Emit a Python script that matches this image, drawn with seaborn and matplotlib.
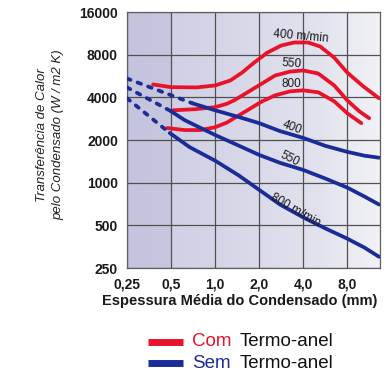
import numpy as np
import pandas as pd
import matplotlib
matplotlib.use("Agg")
import matplotlib.pyplot as plt
import seaborn as sns
from matplotlib.colors import LinearSegmentedColormap
from matplotlib.lines import Line2D
from matplotlib.ticker import NullLocator, FixedLocator, FixedFormatter

# ---------------- data ----------------
x_ticks = [0.25, 0.5, 1.0, 2.0, 4.0, 8.0]
x_tick_labels = ["0,25", "0,5", "1,0", "2,0", "4,0", "8,0"]
y_ticks = [250, 500, 1000, 2000, 4000, 8000, 16000]
y_tick_labels = ["250", "500", "1000", "2000", "4000", "8000", "16000"]

# Com Termo-anel (red)
com400_x = [0.377, 0.5, 0.75, 1.0, 1.27, 1.53, 1.85, 2.27, 2.83, 3.47, 4.33, 5.23, 6.52, 8.0, 10.3, 13.2]
com400_y = [4930, 4720, 4700, 4850, 5260, 5980, 7030, 8260, 9280, 9750, 9750, 9130, 7620, 5980, 4780, 3940]
com550_x = [0.516, 0.73, 1.0, 1.2, 1.35, 1.71, 2.1, 2.57, 3.26, 4.0, 5.07, 6.52, 8.0, 9.66, 11.3]
com550_y = [3240, 3300, 3410, 3600, 3810, 4410, 5020, 5700, 6080, 6190, 5890, 4850, 3810, 3190, 2850]
com800_x = [0.47, 0.62, 0.79, 1.0, 1.2, 1.35, 1.71, 2.1, 2.57, 3.26, 4.0, 5.07, 6.52, 8.0, 9.98]
com800_y = [2430, 2350, 2350, 2460, 2650, 2850, 3300, 3750, 4130, 4410, 4480, 4340, 3750, 3090, 2630]

# Sem Termo-anel (blue) - dashed extrapolated part + solid part
sem400_dash_x = [0.25, 0.70]
sem400_dash_y = [5430, 3630]
sem400_x = [0.70, 1.0, 1.46, 2.0, 2.78, 4.0, 5.66, 8.0, 10.5, 13.2]
sem400_y = [3630, 3240, 2900, 2630, 2310, 2070, 1820, 1650, 1550, 1500]
sem550_dash_x = [0.25, 0.5]
sem550_dash_y = [4700, 3190]
sem550_x = [0.5, 0.62, 1.0, 1.46, 2.0, 2.78, 4.0, 5.66, 8.0, 10.5, 13.2]
sem550_y = [3190, 2760, 2170, 1820, 1570, 1380, 1230, 1070, 923, 798, 701]
sem800_dash_x = [0.25, 0.49]
sem800_dash_y = [3940, 2240]
sem800_x = [0.49, 0.67, 1.0, 1.46, 2.0, 2.78, 4.0, 5.66, 8.0, 10.5, 13.2]
sem800_y = [2240, 1780, 1430, 1120, 890, 701, 569, 476, 403, 348, 300]

# ---------------- style ----------------
RED = "#e8132b"
BLUE = "#1a2c98"

sns.set_theme(style="white")
plt.rcParams["font.family"] = ["Liberation Sans", "DejaVu Sans"]

W, H = 390, 374
fig = plt.figure(figsize=(W / 100, H / 100), dpi=100)
fig.patch.set_facecolor("white")
L, R, T, B = 127, 380, 12, 268
ax = fig.add_axes([L / W, 1 - B / H, (R - L) / W, (B - T) / H])

# background gradient of the plot area
cmap = LinearSegmentedColormap.from_list(
    "bg",
    [(0.0, "#c4c4de"), (0.172, "#c6c6df"), (0.176, "#d0d0e5"),
     (0.45, "#d8d8e9"), (0.75, "#e2e2ee"), (0.87, "#eaeaf2"), (1.0, "#f1f1f6")])
grad = np.linspace(0, 1, 512).reshape(1, -1)
ax.imshow(grad, cmap=cmap, extent=[0, 1, 0, 1], transform=ax.transAxes,
          aspect="auto", zorder=0, interpolation="bilinear")

lw = 2.7
dash = (0, (1.0, 2.0))
series = [
    (com400_x, com400_y, RED, "-"),
    (com550_x, com550_y, RED, "-"),
    (com800_x, com800_y, RED, "-"),
    (sem400_dash_x, sem400_dash_y, BLUE, dash),
    (sem400_x, sem400_y, BLUE, "-"),
    (sem550_dash_x, sem550_dash_y, BLUE, dash),
    (sem550_x, sem550_y, BLUE, "-"),
    (sem800_dash_x, sem800_dash_y, BLUE, dash),
    (sem800_x, sem800_y, BLUE, "-"),
]
for xs, ys, c, ls in series:
    df = pd.DataFrame({"x": xs, "y": ys})
    sns.lineplot(data=df, x="x", y="y", ax=ax, color=c, linewidth=lw,
                 linestyle=ls, sort=False, estimator=None, zorder=3,
                 solid_capstyle="round", solid_joinstyle="round",
                 dash_capstyle="round")

ax.set_xscale("log", base=2)
ax.set_yscale("log", base=2)
ax.set_xlim(0.25, 13.4)
ax.set_ylim(250, 16000)

ax.xaxis.set_major_locator(FixedLocator(x_ticks))
ax.xaxis.set_major_formatter(FixedFormatter(x_tick_labels))
ax.yaxis.set_major_locator(FixedLocator(y_ticks))
ax.yaxis.set_major_formatter(FixedFormatter(y_tick_labels))
ax.xaxis.set_minor_locator(NullLocator())
ax.yaxis.set_minor_locator(NullLocator())

ax.grid(True, which="major", color="#505050", linewidth=0.9, zorder=1)
ax.set_axisbelow(True)
for s in ax.spines.values():
    s.set_color("#606060")
    s.set_linewidth(0.9)

ax.tick_params(axis="both", which="major", direction="out", length=3.5,
               width=0.8, color="#606060", labelsize=10, pad=3)
for lab in ax.get_xticklabels() + ax.get_yticklabels():
    lab.set_fontweight("bold")
    lab.set_color("#1a1a1a")

ax.set_xlabel("")
ax.set_ylabel("")
fig.text(240 / W, 1 - 301 / H, "Espessura Média do Condensado (mm)", fontsize=10.5,
         fontweight="bold", color="#1a1a1a", ha="center", va="center")

# y label (two lines, italic)
fig.text(42 / W, 1 - 135 / H, "Transferência de Calor", rotation=90,
         ha="center", va="center", fontsize=9.5, style="italic", color="#222222")
fig.text(58 / W, 1 - 135 / H, "pelo Condensado (W / m2 K)", rotation=90,
         ha="center", va="center", fontsize=9.5, style="italic", color="#222222")

# curve labels
lab_kw = dict(fontsize=8.5, color="#1a1a1a", ha="center", va="center", zorder=4)
ax.text(3.87, 10690, "400 m/min", rotation=-5, **lab_kw)
ax.text(3.36, 6920, "550", rotation=-4, **lab_kw)
ax.text(3.3, 4930, "800", rotation=0, **lab_kw)
ax.text(3.36, 2430, "400", rotation=-20, **lab_kw)
ax.text(3.26, 1470, "550", rotation=-27, **lab_kw)
ax.text(3.53, 636, "800 m/min", rotation=-30, **lab_kw)

# legend
for ypx, col, word in [(342, RED, "Com"), (363, BLUE, "Sem")]:
    yf = 1 - ypx / H
    fig.add_artist(Line2D([148 / W, 183 / W], [yf, yf], transform=fig.transFigure,
                          color=col, linewidth=5, solid_capstyle="butt"))
    fig.text(192 / W, yf, word, color=col, fontsize=13.5, ha="left", va="center")
    fig.text(240 / W, yf, "Termo-anel", color="#111111", fontsize=13.5,
             ha="left", va="center")

fig.savefig("out.png", dpi=100)
